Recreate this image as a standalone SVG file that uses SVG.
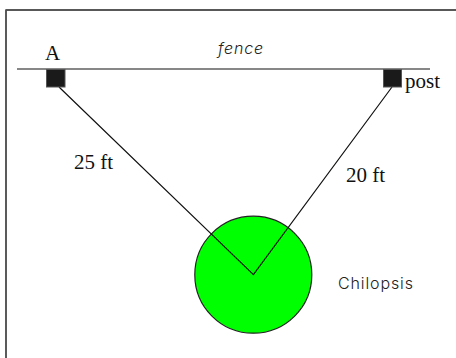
<svg xmlns="http://www.w3.org/2000/svg" width="456" height="358" viewBox="0 0 456 358">
<style>
.s{font-family:"Liberation Serif","Times New Roman",serif;font-size:21px;fill:#111}
.h{font-family:"Inter","Liberation Sans",sans-serif;font-weight:300;font-size:16px;fill:#222}
.post{fill:#1a1a1a;stroke:#555;stroke-width:1}
.c{fill:none;stroke:#111;stroke-width:1.2}
</style>
<rect width="456" height="358" fill="#fff"/>
<path d="M456 10H6V358" fill="none" stroke="#222" stroke-width="1.3"/>
<path d="M6 10V358" fill="none" stroke="#555" stroke-width="1.5"/>
<g id="tree"><circle cx="253.3" cy="274.7" r="58.5" fill="#00ff00" stroke="#222" stroke-width="1.2"/></g>
<g id="connectors">
<path class="c" d="M17 69H430" stroke-width="1.3"/>
<path class="c" d="M59 87L253.4 274.7L392 87"/>
</g>
<g id="post-a"><rect class="post" x="46.5" y="69.5" width="18.5" height="17.5"/></g>
<g id="post-b"><rect class="post" x="383.5" y="69.5" width="18" height="17.5"/></g>
<g id="labels">
<text class="s" x="45" y="60">A</text>
<text class="h" x="218" y="54" font-style="italic" textLength="45">fence</text>
<text class="s" x="405" y="88">post</text>
<text class="s" x="74" y="169">25 ft</text>
<text class="s" x="346" y="182">20 ft</text>
<text class="h" x="338" y="289" textLength="75">Chilopsis</text>
</g>
</svg>
